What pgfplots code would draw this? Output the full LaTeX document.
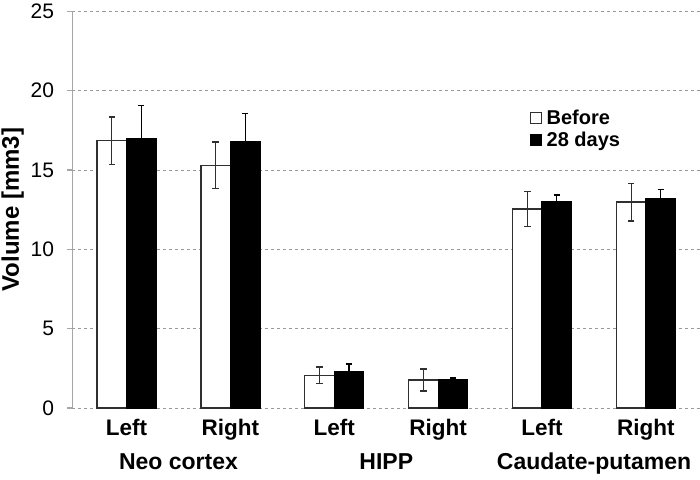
\documentclass[border=0pt]{standalone}
\usepackage{fontspec}
\setmainfont{Liberation Sans}
\usepackage{pgfplots}
\pgfplotsset{compat=1.18}
\definecolor{axgray}{HTML}{A6A6A6}
\definecolor{gridgray}{HTML}{9A9A9A}
\definecolor{edge}{HTML}{303030}
\begin{document}
\begin{tikzpicture}
\begin{axis}[
  scale only axis, width=627.5pt, height=396.6pt,
  xmin=-0.52, xmax=5.52, ymin=0, ymax=25,
  clip=false,
  ybar=0pt, bar width=29.5pt,
  axis x line=bottom, axis y line=left,
  x axis line style={draw=none},
  y axis line style={-, draw=axgray, line width=1.2pt},
  ytick={0,5,...,25},
  xtick={0,1,2,3,4,5},
  xticklabels={Left,Right,Left,Right,Left,Right},
  xtick style={draw=none},
  ytick style={draw=axgray, line width=1.2pt},
  tick align=outside, major tick length=5pt,
  ymajorgrids, grid style={dash pattern=on 3pt off 3pt, draw=gridgray, line width=1pt},
  /pgf/number format/assume math mode=true,
  yticklabel style={font=\fontsize{21}{24}\selectfont, xshift=-10pt},
  xticklabel style={font=\bfseries\fontsize{22.5}{26}\selectfont, anchor=base, yshift=-22pt},
  ylabel={Volume [mm3]},
  ylabel style={font=\bfseries\fontsize{24}{27}\selectfont, at={(rel axis cs:-0.0953,0.5)}, anchor=center},
  legend style={at={(rel axis cs:0.729,0.756)}, anchor=north west, draw=none, fill=none,
    font=\bfseries\fontsize{20}{21}\selectfont, inner sep=0pt, row sep=3pt, column sep=3pt,
    nodes={inner sep=1.5pt}},
  legend cell align=left,
]
\addplot[fill=white, draw=edge, line width=1.3pt,
  legend image code/.code={\draw[fill=white, draw=edge, line width=1pt] (0pt,-5.5pt) rectangle (11pt,5.5pt);},
  error bars/.cd, y dir=both, y explicit,
  error bar style={draw=edge, line width=1.3pt},
  error mark options={rotate=90, mark size=3.2pt, line width=1.3pt, draw=edge}]
  coordinates {(0,16.84)+-(0,1.50) (1,15.29)+-(0,1.47) (2,2.06)+-(0,0.53) (3,1.76)+-(0,0.69) (4,12.54)+-(0,1.12) (5,12.98)+-(0,1.19)};
\addplot[fill=black, draw=black, line width=1.3pt,
  legend image code/.code={\draw[fill=black, draw=black, line width=1pt] (0pt,-5.5pt) rectangle (11pt,5.5pt);},
  error bars/.cd, y dir=both, y explicit,
  error bar style={draw=black, line width=1.3pt},
  error mark options={rotate=90, mark size=3.2pt, line width=1.3pt, draw=black}]
  coordinates {(0,16.99)+-(0,2.08) (1,16.76)+-(0,1.79) (2,2.27)+-(0,0.50) (3,1.77)+-(0,0.12) (4,12.98)+-(0,0.44) (5,13.19)+-(0,0.59)};
\legend{Before,28 days}
\node[font=\bfseries\fontsize{23}{26}\selectfont, anchor=base] at (axis cs:0.5,0) [yshift=-61.5pt] {Neo cortex};
\node[font=\bfseries\fontsize{23}{26}\selectfont, anchor=base] at (axis cs:2.5,0) [yshift=-61.5pt] {HIPP};
\node[font=\bfseries\fontsize{23}{26}\selectfont, anchor=base] at (axis cs:4.5,0) [yshift=-61.5pt] {Caudate-putamen};
\end{axis}
\pgfresetboundingbox
\useasboundingbox (-72.5pt,-71pt) rectangle (627.5pt,408pt);
\end{tikzpicture}
\end{document}
